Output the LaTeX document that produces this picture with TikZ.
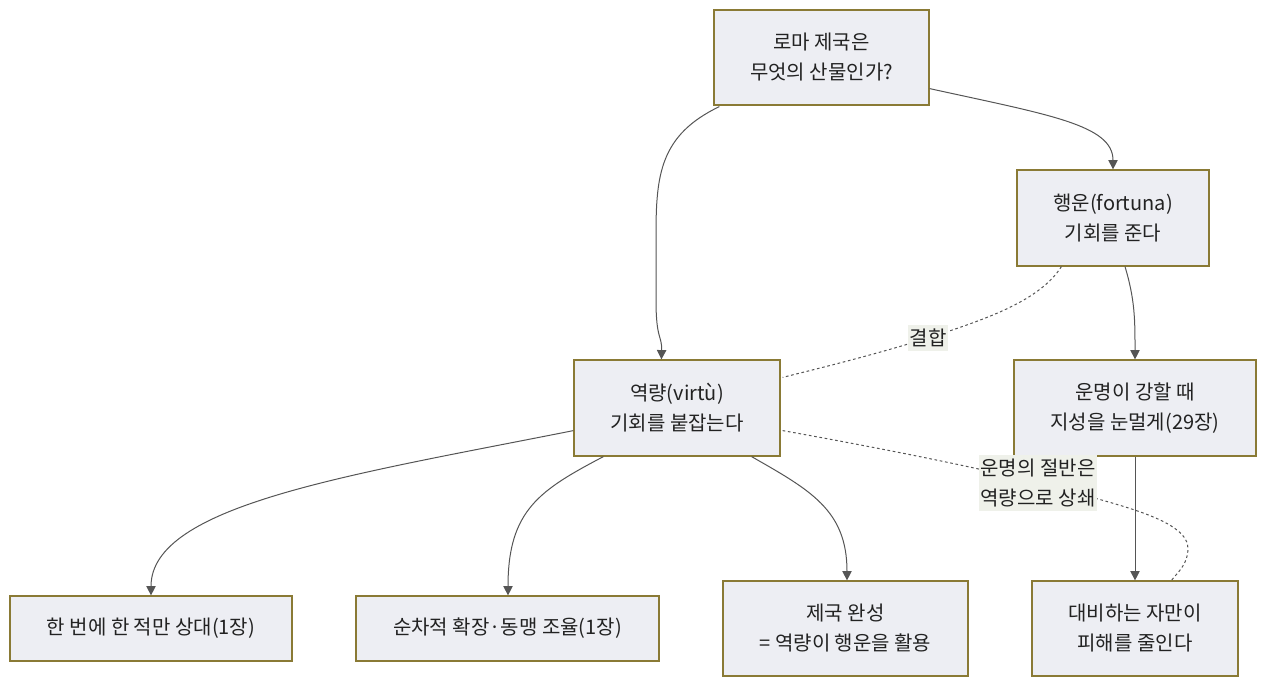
\documentclass[tikz,border=0pt]{standalone}
\usepackage{fontspec}
\setmainfont{Noto Sans CJK KR}
\usetikzlibrary{calc,arrows.meta}
\definecolor{nodefill}{HTML}{EDEEF3}
\definecolor{nodeborder}{HTML}{8A7A35}
\definecolor{edgecol}{HTML}{555555}
\definecolor{lblbg}{HTML}{EFF1EA}
\definecolor{txt}{HTML}{222222}
\begin{document}
\begin{tikzpicture}[x=0.75pt,y=-0.75pt,
  box/.style={draw=nodeborder, fill=nodefill, line width=0.9pt, align=center,
    font=\fontsize{15}{22.5}\selectfont, text=txt, inner sep=0pt},
  link/.style={draw=edgecol, line width=0.75pt, -{Triangle[length=7pt,width=7pt]}},
  dotlink/.style={draw=edgecol, line width=0.75pt, dash pattern=on 2pt off 2pt},
  lbl/.style={fill=lblbg, font=\fontsize{15}{22.5}\selectfont, text=txt, inner xsep=1pt, inner ysep=3pt, align=center}]
\useasboundingbox (0,0) rectangle (1280,695);

\node[box, minimum width=161.25pt, minimum height=71.25pt] (A) at (821.5,57.5) {로마 제국은\\무엇의 산물인가?};
\node[box, minimum width=144pt, minimum height=72pt] (B) at (1113,218) {행운(fortuna)\\기회를 준다};
\node[box, minimum width=154.5pt, minimum height=72pt] (C) at (677,408) {역량(virtù)\\기회를 붙잡는다};
\node[box, minimum width=181.5pt, minimum height=72pt] (D) at (1135,408) {운명이 강할 때\\지성을 눈멀게(29장)};
\node[box, minimum width=211.5pt, minimum height=48.75pt] (E) at (151,628.5) {한 번에 한 적만 상대(1장)};
\node[box, minimum width=227.25pt, minimum height=48.75pt] (F) at (507.5,628.5) {순차적 확장·동맹 조율(1장)};
\node[box, minimum width=183.75pt, minimum height=71.25pt] (G) at (845.5,628.5) {제국 완성\\= 역량이 행운을 활용};
\node[box, minimum width=154.5pt, minimum height=71.25pt] (H) at (1135,628.5) {대비하는 자만이\\피해를 줄인다};

% arrows
\draw[link] ($(A.south west)+(6,1)$) .. controls (660,135) and (656,175) .. (656,235)
  -- (656,300) .. controls (656,340) and (662,335) .. ($(C.north west)+(88,0)$);
\draw[link] ($(A.south east)+(0,-17)$) .. controls (1050,115) and (1113,125) .. (B.north);
\draw[link] ($(B.south)+(12,0)$) .. controls (1135,300) and (1135,320) .. (D.north);
\draw[link] (D.south) -- (H.north);
\draw[link] ($(C.south west)+(0,-26)$) .. controls (350,475) and (151,505) .. (E.north);
\draw[link] ($(C.south west)+(30,0)$) .. controls (540,490) and (508,510) .. ($(F.north)+(0.5,0)$);
\draw[link] ($(C.south east)+(-29,0)$) .. controls (810,490) and (847,510) .. ($(G.north)+(1.5,0)$);

% dotted links
\coordinate (L1) at (928,338);
\coordinate (L2) at (1038,483);
\draw[dotlink] ($(B.south west)+(45,0)$) .. controls (1040,300) and (990,318) .. (L1)
  .. controls (870,356) and (820,368) .. ($(C.north east)+(2,18)$);
\draw[dotlink] ($(C.south east)+(2,-26)$) .. controls (880,448) and (980,468) .. (L2)
  .. controls (1120,505) and (1190,520) .. (1188,550) .. controls (1187,565) and (1178,572) .. ($(H.north west)+(140,0)$);
\node[lbl] (l1) at (L1) {결합};
\node[lbl] (l2) at (L2) {운명의 절반은\\역량으로 상쇄};
\end{tikzpicture}
\end{document}
